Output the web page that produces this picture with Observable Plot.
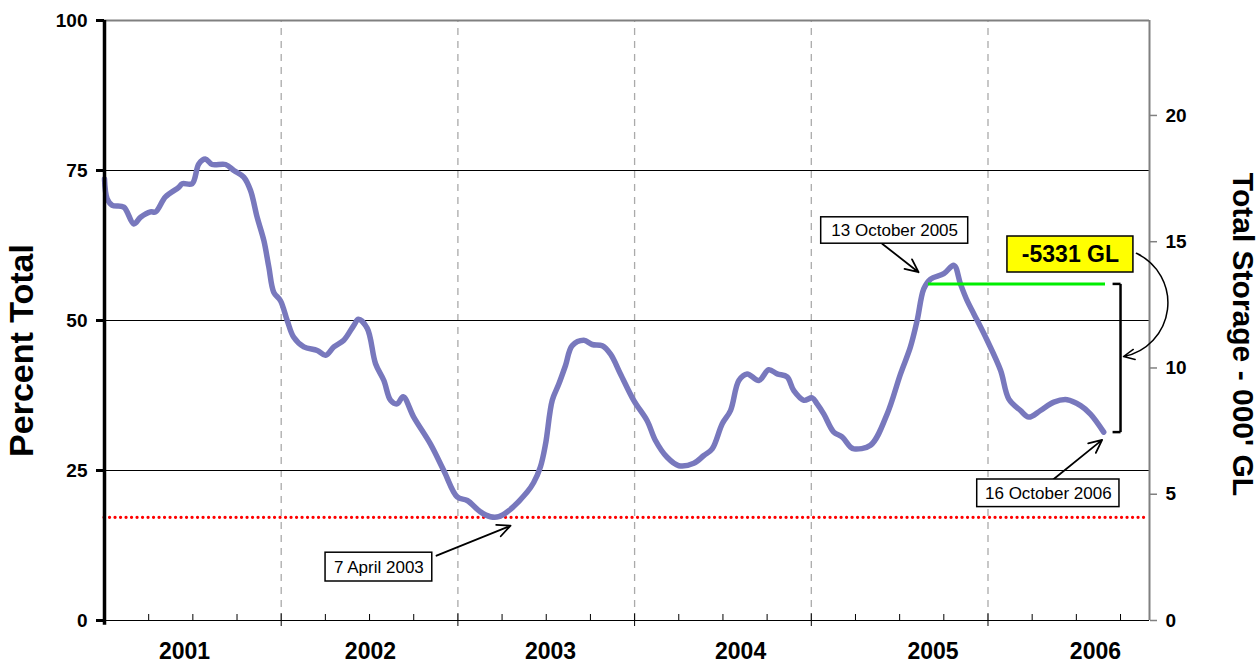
<!DOCTYPE html>
<html>
<head>
<meta charset="utf-8">
<script src="https://cdn.jsdelivr.net/npm/d3@7"></script>
<script src="https://cdn.jsdelivr.net/npm/@observablehq/plot@0.6"></script>
<style>
  html, body { margin: 0; padding: 0; background: #fff; }
  svg { display: block; }
</style>
</head>
<body>
<div id="chart"></div>
<script>
// ---- data (decimal year, percent of total storage) ----
const storageYear = [
  2001.000, 2001.015, 2001.044, 2001.109, 2001.166, 2001.204, 2001.260, 2001.289,
  2001.345, 2001.420, 2001.440, 2001.496, 2001.534, 2001.571, 2001.609, 2001.685,
  2001.732, 2001.788, 2001.826, 2001.864, 2001.902, 2001.930, 2001.958, 2001.996,
  2002.034, 2002.071, 2002.128, 2002.204, 2002.251, 2002.298, 2002.354, 2002.411,
  2002.437, 2002.487, 2002.534, 2002.581, 2002.619, 2002.656, 2002.690, 2002.750,
  2002.845, 2002.920, 2002.996, 2003.053, 2003.128, 2003.184, 2003.231, 2003.288,
  2003.392, 2003.429, 2003.467, 2003.496, 2003.534, 2003.571, 2003.609, 2003.647,
  2003.713, 2003.760, 2003.817, 2003.864, 2003.920, 2003.995, 2004.071, 2004.118,
  2004.184, 2004.250, 2004.335, 2004.392, 2004.439, 2004.496, 2004.543, 2004.590,
  2004.637, 2004.703, 2004.759, 2004.807, 2004.863, 2004.901, 2004.958, 2005.005,
  2005.033, 2005.071, 2005.127, 2005.174, 2005.222, 2005.241, 2005.335, 2005.429,
  2005.505, 2005.561, 2005.599, 2005.637, 2005.675, 2005.750, 2005.807, 2005.844,
  2005.882, 2005.920, 2005.995, 2006.071, 2006.118, 2006.184, 2006.231, 2006.297,
  2006.373, 2006.448, 2006.524, 2006.580, 2006.655
];
const storagePct = [
  73.6, 70.3, 69.2, 68.9, 66.1, 67.2, 68.1, 68.1,
  70.6, 72.2, 72.8, 72.8, 76.1, 76.9, 76.0, 76.0,
  75.0, 73.9, 71.7, 67.2, 63.3, 58.9, 54.7, 53.3,
  50.0, 47.2, 45.6, 45.0, 44.2, 45.6, 46.7, 49.2,
  50.2, 48.7, 42.8, 40.0, 36.7, 36.1, 37.3, 33.9,
  29.4, 25.0, 20.6, 20.0, 18.1, 17.3, 17.3, 18.3,
  21.4, 23.0, 25.6, 29.4, 36.7, 39.4, 42.5, 45.8,
  46.7, 46.0, 45.8, 44.4, 41.1, 36.7, 33.3, 30.0,
  27.2, 25.8, 26.2, 27.5, 28.6, 32.8, 35.0, 40.0,
  41.1, 40.0, 41.8, 41.1, 40.6, 38.3, 36.7, 37.1,
  36.1, 34.4, 31.4, 30.6, 28.9, 28.6, 29.2, 34.4,
  41.1, 45.6, 50.0, 55.3, 56.9, 57.8, 59.2, 56.1,
  53.3, 51.1, 46.7, 41.7, 36.9, 35.0, 33.9, 35.0,
  36.4, 36.8, 35.8, 34.4, 31.4
];

// axes / scale values
const xStart = 2001;
const xEnd = 2006.914;
const yearBoundaries = [2002, 2003, 2004, 2005, 2006];
const yearLabels = ["2001", "2002", "2003", "2004", "2005", "2006"];
const yearLabelX = [2001.453, 2002.505, 2003.524, 2004.600, 2005.689, 2006.608];
const quarterTicks = d3.range(0, 24).map(i => 2001 + i * 0.25).filter(v => v % 1 !== 0);
const leftTicks = [0, 25, 50, 75, 100];
const rightTicks = [0, 5, 10, 15, 20];
const fullStorageK = 23.76;   // '000 GL at 100 %
const gridLines = [25, 50, 75];

// reference lines & annotations
const minLevelPct = 17.2;
const minLevelEnd = 2006.891;
const peakStartYear = 2005.663, latestYear = 2006.665, peakPct = 56.1, latestPct = 31.4;
const bracketX = 2006.750, bracketTickX = 2006.705;
const lossLabel = "-5331 GL";
const leftTitle = "Percent Total";
const rightTitle = "Total Storage - 000' GL";

const boxes = [
  {label: "13 October 2005", x1: 2005.056, x2: 2005.888, y1: 62.8, y2: 67.2},
  {label: "16 October 2006", x1: 2005.939, x2: 2006.744, y1: 18.9, y2: 23.5},
  {label: "7 April 2003",    x1: 2002.251, x2: 2002.855, y1: 6.5,  y2: 11.3}
];
const pointers = [
  {x1: 2005.401, y1: 62.8, x2: 2005.607, y2: 58.05},
  {x1: 2006.369, y1: 23.5, x2: 2006.646, y2: 30.1},
  {x1: 2002.879, y1: 10.8, x2: 2003.298, y2: 15.8}
];
const lossBox = {x1: 2006.110, x2: 2006.823, y1: 58.0, y2: 64.0};
const lossArrow = {x1: 2006.840, y1: 61.2, x2: 2006.767, y2: 44.0};

const storage = storageYear.map((x, i) => ({x, pct: storagePct[i]}));
const font = "'Liberation Sans', Arial, Helvetica, sans-serif";

const chart = Plot.plot({
  width: 1260,
  height: 667,
  marginLeft: 104,
  marginRight: 111,
  marginTop: 20,
  marginBottom: 47,
  x: {domain: [xStart, xEnd], axis: null},
  y: {domain: [0, 100], axis: null},
  style: {fontFamily: font, background: "white", color: "black", overflow: "visible"},
  marks: [
    // year boundary dashed lines
    Plot.ruleX(yearBoundaries, {y1: 0, y2: 100, stroke: "#aaaaaa", strokeWidth: 1.3, strokeDasharray: "7,6"}),
    // grid lines
    Plot.ruleY(gridLines, {stroke: "black", strokeWidth: 1}),
    // frame top and right
    Plot.ruleY([100], {stroke: "#808080", strokeWidth: 2}),
    Plot.ruleX([xEnd], {y1: 0, y2: 100, stroke: "#808080", strokeWidth: 2}),
    // bottom axis line + ticks
    Plot.ruleY([0], {stroke: "black", strokeWidth: 1}),
    Plot.ruleX(quarterTicks, {y1: 0, y2: 1, stroke: "black", strokeWidth: 1}),
    Plot.ruleX(yearBoundaries, {y1: -1, y2: 1.1, stroke: "black", strokeWidth: 1}),
    // red dotted minimum line
    Plot.ruleY([minLevelPct], {x1: xStart, x2: minLevelEnd, stroke: "#ff0000", strokeWidth: 3.2, strokeDasharray: "0.1,5.4", strokeLinecap: "round"}),
    // storage line
    Plot.line(storage, {x: "x", y: "pct", stroke: "#7878bd", strokeWidth: 5.5, curve: "catmull-rom"}),
    // green peak level line
    Plot.ruleY([peakPct], {x1: peakStartYear, x2: latestYear, stroke: "#00ee00", strokeWidth: 3}),
    // bracket
    Plot.link([{x1: bracketX, y1: peakPct, x2: bracketX, y2: latestPct}], {x1: "x1", y1: "y1", x2: "x2", y2: "y2", stroke: "black", strokeWidth: 2.5}),
    Plot.link([{y: peakPct}, {y: latestPct}], {x1: bracketTickX, x2: bracketX, y1: "y", y2: "y", stroke: "black", strokeWidth: 2.5}),
    // pointer arrows
    Plot.arrow(pointers, {x1: "x1", y1: "y1", x2: "x2", y2: "y2", stroke: "black", strokeWidth: 1.8, headLength: 12, headAngle: 50}),
    // curved arrow
    Plot.arrow([lossArrow], {x1: "x1", y1: "y1", x2: "x2", y2: "y2", bend: 72, stroke: "black", strokeWidth: 1.5, headLength: 12, headAngle: 50}),
    // annotation boxes
    Plot.rect(boxes, {x1: "x1", x2: "x2", y1: "y1", y2: "y2", fill: "white", stroke: "black", strokeWidth: 1.5}),
    Plot.text(boxes, {x: d => (d.x1 + d.x2) / 2, y: d => (d.y1 + d.y2) / 2, text: "label", fontSize: 17, fill: "black"}),
    Plot.rect([lossBox], {x1: "x1", x2: "x2", y1: "y1", y2: "y2", fill: "#ffff00", stroke: "black", strokeWidth: 1.5}),
    Plot.text([lossBox], {x: d => (d.x1 + d.x2) / 2, y: d => (d.y1 + d.y2) / 2, text: () => lossLabel, fontSize: 23, fontWeight: "bold", fill: "black"}),
    // left axis
    Plot.ruleX([xStart], {y1: -0.8, y2: 100, stroke: "black", strokeWidth: 3.5}),
    Plot.axisY(leftTicks, {anchor: "left", tickSize: 8, tickPadding: 9, strokeWidth: 3, stroke: "black", fontSize: 19, fontWeight: "bold", label: null}),
    // right axis
    Plot.axisY(rightTicks.map(v => v / fullStorageK * 100), {anchor: "right", tickSize: 7, tickPadding: 9, stroke: "#808080", strokeWidth: 1.5, fontSize: 19, fontWeight: "bold", label: null, tickFormat: d => String(Math.round(d * fullStorageK / 100))}),
    // year labels
    Plot.text(yearLabels, {x: (d, i) => yearLabelX[i], frameAnchor: "bottom", dy: 38, text: d => d, fontSize: 23, fontWeight: "bold", fill: "black"}),
    // axis titles
    Plot.text([leftTitle], {frameAnchor: "left", textAnchor: "middle", dx: -82, dy: 30, rotate: -90, fontSize: 34, fontWeight: "bold", fill: "black"}),
    Plot.text([rightTitle], {frameAnchor: "right", textAnchor: "middle", dx: 93, dy: 14, rotate: 90, fontSize: 30, fontWeight: "bold", fill: "black"})
  ]
});
document.getElementById("chart").appendChild(chart);
</script>
</body>
</html>
